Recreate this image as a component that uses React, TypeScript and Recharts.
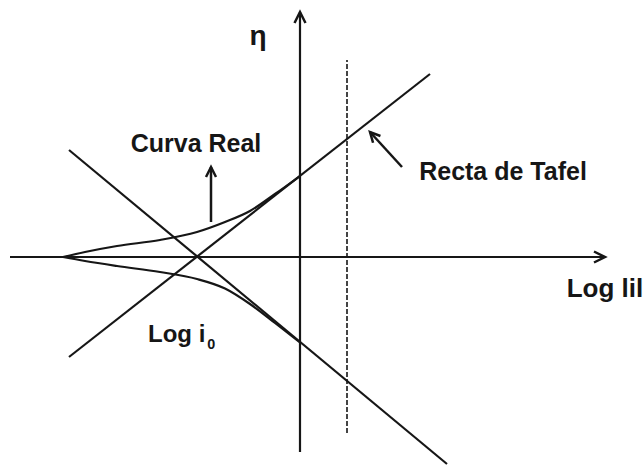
import { ComposedChart, Line, XAxis, YAxis, ReferenceDot } from "recharts";

type Pt = { x: number; y: number };

// ejes: log|i| en x, sobrepotencial η en y
const ejeX: Pt[] = [
  { x: -5.8, y: 0 },
  { x: 6.1, y: 0 },
];
const ejeY: Pt[] = [
  { x: 0, y: -3.9 },
  { x: 0, y: 4.9 },
];

// corriente límite (línea discontinua)
const limite: Pt[] = [
  { x: 0.94, y: -3.52 },
  { x: 0.94, y: 3.94 },
];

// rectas de Tafel, se cortan en log i0 (η = 0)
const tafelAnodica: Pt[] = [
  { x: -4.62, y: -2.0 },
  { x: 2.6, y: 3.66 },
];
const tafelCatodica: Pt[] = [
  { x: -4.62, y: 2.14 },
  { x: 2.94, y: -4.14 },
];

// curva real (rama anódica y catódica)
const realAnodica: Pt[] = [
  { x: -4.74, y: 0 },
  { x: -4.3, y: 0.1 },
  { x: -3.66, y: 0.22 },
  { x: -2.8, y: 0.34 },
  { x: -2.06, y: 0.5 },
  { x: -1.5, y: 0.7 },
  { x: -1.0, y: 0.92 },
  { x: -0.5, y: 1.26 },
  { x: 0, y: 1.62 },
];
const realCatodica: Pt[] = [
  { x: -4.74, y: 0 },
  { x: -4.3, y: -0.08 },
  { x: -3.66, y: -0.18 },
  { x: -2.8, y: -0.3 },
  { x: -2.06, y: -0.44 },
  { x: -1.5, y: -0.63 },
  { x: -1.0, y: -0.94 },
  { x: -0.5, y: -1.32 },
  { x: 0, y: -1.71 },
];

// flechas de las anotaciones
const flechaReal: Pt[] = [
  { x: -1.78, y: 0.7 },
  { x: -1.78, y: 1.8 },
];
const flechaTafel: Pt[] = [
  { x: 2.04, y: 1.8 },
  { x: 1.4, y: 2.5 },
];

const INK = "#161616";
const FONT = '"Liberation Sans", Arial, sans-serif';

// punta de flecha en el último punto de la serie, orientada según el tramo anterior
function arrowHead(len: number, size = 11, half = 5.5) {
  let prev = { cx: 0, cy: 0 };
  return (props: any) => {
    const { cx, cy, index } = props;
    if (index < len - 1) {
      prev = { cx, cy };
      return <g key={`p${index}`} />;
    }
    const a = Math.atan2(cy - prev.cy, cx - prev.cx);
    const bx = cx - size * Math.cos(a);
    const by = cy - size * Math.sin(a);
    const nx = -Math.sin(a) * half;
    const ny = Math.cos(a) * half;
    return (
      <path
        key={`p${index}`}
        d={`M${bx + nx},${by + ny} L${cx},${cy} L${bx - nx},${by - ny}`}
        fill="none"
        stroke={INK}
        strokeWidth={2.5}
      />
    );
  };
}

function tag(text: string, size: number, anchor: "start" | "middle" = "middle", sub?: string) {
  return (p: any) => {
    const vb = p.viewBox || {};
    return (
      <text
        x={vb.x + (vb.width || 0) / 2}
        y={vb.y + (vb.height || 0) / 2}
        textAnchor={anchor}
        fontFamily={FONT}
        fontWeight="bold"
        fontSize={size}
        fill={INK}
      >
        {text}
        {sub && (
          <tspan dx={2} dy={7} fontSize={size * 0.6}>
            {sub}
          </tspan>
        )}
      </text>
    );
  };
}

export default function App() {
  const lineBase = {
    dataKey: "y",
    stroke: INK,
    strokeWidth: 2.2,
    dot: false,
    activeDot: false,
    isAnimationActive: false,
  } as const;

  return (
    <div style={{ position: "absolute", left: 0, top: 0, width: 644, height: 467, background: "#fff" }}>
      <ComposedChart width={644} height={467} margin={{ top: 0, right: 0, bottom: 0, left: 0 }}>
        <XAxis type="number" dataKey="x" domain={[-6, 6.88]} allowDataOverflow hide />
        <YAxis type="number" domain={[-4.2, 5.14]} allowDataOverflow hide />

        <Line {...lineBase} data={limite} stroke="#444" strokeWidth={2} strokeDasharray="5 2" />
        <Line {...lineBase} data={ejeX} dot={arrowHead(ejeX.length)} />
        <Line {...lineBase} data={ejeY} dot={arrowHead(ejeY.length)} />
        <Line {...lineBase} data={tafelAnodica} />
        <Line {...lineBase} data={tafelCatodica} />
        <Line {...lineBase} type="monotone" data={realAnodica} />
        <Line {...lineBase} type="monotone" data={realCatodica} />
        <Line {...lineBase} data={flechaReal} strokeWidth={2.5} dot={arrowHead(flechaReal.length, 10, 5)} />
        <Line {...lineBase} data={flechaTafel} strokeWidth={2.5} dot={arrowHead(flechaTafel.length, 10, 5)} />

        <ReferenceDot x={-0.84} y={4.25} r={0} fill="none" stroke="none" label={tag("η", 28)} />
        <ReferenceDot x={-2.08} y={2.1} r={0} fill="none" stroke="none" label={tag("Curva Real", 25)} />
        <ReferenceDot x={4.06} y={1.54} r={0} fill="none" stroke="none" label={tag("Recta de Tafel", 25)} />
        <ReferenceDot x={6.1} y={-0.8} r={0} fill="none" stroke="none" label={tag("Log lil", 26)} />
        <ReferenceDot x={-3.04} y={-1.7} r={0} fill="none" stroke="none" label={tag("Log i", 24, "start", "0")} />
      </ComposedChart>
    </div>
  );
}
